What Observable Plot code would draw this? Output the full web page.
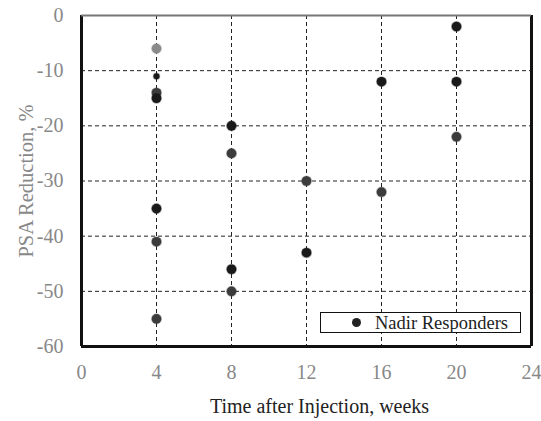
<!DOCTYPE html>
<html>
<head>
<meta charset="utf-8">
<script src="https://cdn.jsdelivr.net/npm/d3@7"></script>
<script src="https://cdn.jsdelivr.net/npm/@observablehq/plot@0.6"></script>
<style>
  html, body { margin: 0; padding: 0; background: #fff; }
  #wrap { position: relative; width: 541px; height: 421px; }
  #legend { position: absolute; left: 320px; top: 312px; width: 199px; height: 19px;
    border: 1.5px solid #111; background: #fff; font-family: "Liberation Serif", serif;
    font-size: 18.5px; color: #222; box-sizing: content-box; }
  #legend .dot { position: absolute; left: 31px; top: 5px; width: 9px; height: 9px; border-radius: 50%; background: #222; }
  #legend .txt { position: absolute; left: 54px; top: 0px; line-height: 20px; }
</style>
</head>
<body>
<div id="wrap"></div>
<script>
const weeks  = [4, 4, 4, 4, 4, 4, 4, 8, 8, 8, 8, 12, 12, 16, 16, 20, 20, 20];
const values = [-6, -11, -14, -15, -35, -41, -55, -20, -25, -46, -50, -30, -43, -12, -32, -2, -12, -22];
const shade  = ["light", "small", "dark", "black", "black", "dark", "dark", "black", "dark", "black", "dark", "dark", "black", "black", "dark", "black", "black", "dark"];
const xTicks = [0, 4, 8, 12, 16, 20, 24];
const yTicks = [0, -10, -20, -30, -40, -50, -60];
const seriesName = "Nadir Responders";

const data = weeks.map((w, i) => ({week: w, value: values[i], shade: shade[i]}));
const font = "Liberation Serif, Times New Roman, serif";

const chart = Plot.plot({
  width: 541,
  height: 421,
  marginLeft: 81,
  marginRight: 10,
  marginTop: 15,
  marginBottom: 75,
  style: {fontFamily: font, fontSize: "20px", background: "#fff"},
  x: {domain: [0, 24], ticks: xTicks, label: null},
  y: {domain: [-60, 0], ticks: yTicks, label: null},
  color: {domain: ["black", "dark", "light", "small"], range: ["#1a1a1a", "#3c3c3c", "#8a8a8a", "#1a1a1a"]},
  r: {type: "identity"},
  marks: [
    Plot.gridX(xTicks.slice(1, -1), {stroke: "#222", strokeOpacity: 1, strokeDasharray: "4,3", strokeWidth: 1}),
    Plot.gridY(yTicks.slice(1, -1), {stroke: "#222", strokeOpacity: 1, strokeDasharray: "4,3", strokeWidth: 1}),
    Plot.axisX(xTicks, {tickSize: 0, tickPadding: 18, fill: "#888", fontSize: 20, tickFormat: d => String(d), label: null}),
    Plot.axisY(yTicks, {tickSize: 0, tickPadding: 18, fill: "#888", fontSize: 20, tickFormat: d => String(d), label: null}),
    Plot.dot(data, {x: "week", y: "value", fill: "shade", stroke: "shade", strokeOpacity: 0.35, strokeWidth: 1.5,
      r: d => d.shade === "small" ? 3 : 4.8}),
    Plot.ruleX([0], {stroke: "#111", strokeWidth: 3}),
    Plot.ruleX([24], {stroke: "#111", strokeWidth: 3}),
    Plot.ruleY([-60], {stroke: "#111", strokeWidth: 3}),
    Plot.ruleY([0], {stroke: "#777", strokeWidth: 2}),
    Plot.text(["Time after Injection, weeks"], {frameAnchor: "bottom", dy: 66, dx: 13, fill: "#222", fontSize: 20}),
    Plot.text(["PSA Reduction, %"], {frameAnchor: "left", textAnchor: "middle", dx: -55, dy: 0, rotate: -90, fill: "#888", fontSize: 20.5})
  ]
});

const wrap = document.getElementById("wrap");
wrap.appendChild(chart);
const legend = document.createElement("div");
legend.id = "legend";
legend.innerHTML = '<span class="dot"></span><span class="txt"></span>';
legend.querySelector(".txt").textContent = seriesName;
wrap.appendChild(legend);
</script>
</body>
</html>
